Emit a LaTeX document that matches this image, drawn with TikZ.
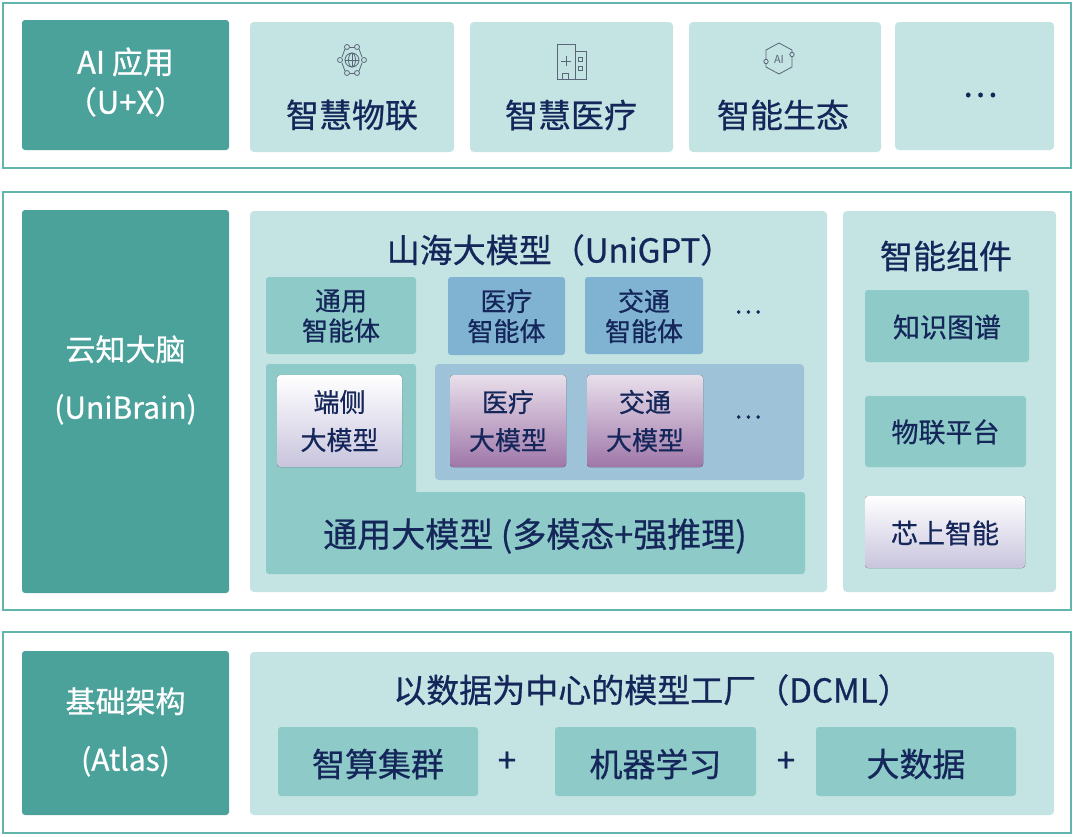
\documentclass[tikz,border=0pt]{standalone}
\usepackage{fontspec}
\setmainfont{Noto Sans CJK SC}
\newfontfamily\med[FakeBold=0.7]{Noto Sans CJK SC}
\usetikzlibrary{shapes.geometric}
\definecolor{dk}{HTML}{4BA29B}
\definecolor{bd}{HTML}{62B5AC}
\definecolor{lp}{HTML}{C3E4E2}
\definecolor{mt}{HTML}{8ECBC8}
\definecolor{bl}{HTML}{80B3D2}
\definecolor{bp}{HTML}{9EC2D7}
\definecolor{nv}{HTML}{15275A}
\definecolor{ic}{HTML}{5A6578}
\definecolor{pu}{HTML}{8E5F9A}
\definecolor{lv}{HTML}{C8C4DD}
\tikzset{
 outer/.style={draw=bd,line width=1.5pt,fill=white},
 dark/.style={fill=dk,rounded corners=3pt},
 panel/.style={fill=lp,rounded corners=4pt},
 mid/.style={fill=mt,rounded corners=3pt},
 blu/.style={fill=bl,rounded corners=3pt},
 bpan/.style={fill=bp,rounded corners=4pt},
 purp/.style={top color=white!80!pu,bottom color=pu!85,rounded corners=3pt},
 lav/.style={top color=white,bottom color=lv,rounded corners=3pt},
 wt/.style={text=white,font=\med\fontsize{31}{40}\selectfont,align=center},
 tx/.style={text=nv,font=\med\fontsize{33}{38}\selectfont,align=center},
 ts/.style={text=nv,font=\med\fontsize{26}{30}\selectfont,align=center},
 icon/.style={draw=ic,line width=0.8pt}
}
\begin{document}
\begin{tikzpicture}[x=1pt,y=-1pt]
\useasboundingbox (0,0) rectangle (1074,836);
% row 1
\draw[outer] (3,3) rectangle (1071,168);
\fill[dark] (22,20) rectangle (229,150);
\node[wt] (ai) at (125.5,82) {AI 应用\\（U+X）};
\fill[panel] (250,22) rectangle (454,152);
\fill[panel] (470,22) rectangle (673,152);
\fill[panel] (689,22) rectangle (881,152);
\fill[panel] (895,22) rectangle (1054,150);
\node[tx] (a1) at (352,115) {智慧物联};
\node[tx] (a2) at (571,115) {智慧医疗};
\node[tx] (a3) at (783,115) {智能生态};
\node[tx] (a4) at (980,95) {…};
% icon 1
\begin{scope}[icon]
\draw (352,60) circle (7);
\draw (345,60) -- (359,60); \draw (352,53) -- (352,67);
\draw (352,60) ellipse (3.5 and 7);
\foreach \p in {(347,47),(357,47),(340,60),(364,60),(347,73),(357,73)} \draw \p circle (2.5);
\draw (349.5,47)--(354.5,47); \draw (349.5,73)--(354.5,73);
\draw (345,49)--(342,57); \draw (359,49)--(362,57);
\draw (342,63)--(345,71); \draw (362,63)--(359,71);
% icon 2
\draw (557,44) rectangle (575,79);
\draw (575,51) rectangle (586,79);
\draw (561,61)--(571,61); \draw (566,56)--(566,66);
\draw (578.5,57) rectangle (582.5,61); \draw (578.5,66) rectangle (582.5,70);
\draw (562,79)--(562,73)--(568,73)--(568,79);
% icon 3
\draw (779,43)--(792,50)--(792,52); \draw (792,57)--(792,67)--(779,74)--(766,67)--(766,64);
\draw (766,59)--(766,50)--(779,43);
\draw (792,54.5) circle (2.2); \draw (766,61.5) circle (2.2);
\end{scope}
\node[text=ic,font=\fontsize{11}{11}\selectfont] (aii) at (779,59) {AI};
% row 2
\draw[outer] (3,192) rectangle (1071,610);
\fill[dark] (22,210) rectangle (229,593);
\node[wt,font=\med\fontsize{30}{58}\selectfont] (ub) at (125.5,380) {云知大脑\\(UniBrain)};
\fill[panel] (250,211) rectangle (827,592);
\fill[panel] (843,211) rectangle (1056,592);
\node[tx] (ug) at (560,250) {山海大模型（UniGPT）};
\fill[mid] (266,277) rectangle (416,354);
\fill[blu] (448,277) rectangle (565,355);
\fill[blu] (585,277) rectangle (703,354);
\node[ts] (g1) at (341,316) {通用\\智能体};
\node[ts] (g2) at (506.5,316) {医疗\\智能体};
\node[ts] (g3) at (644,316) {交通\\智能体};
\node[ts] (g4) at (748,312) {…};
\fill[mid] (266,364) rectangle (416,500);
\fill[mid] (266,492) rectangle (805,574);
\fill[bpan] (435,364) rectangle (804,480);
\fill[lav] (277,375) rectangle (402,467);
\fill[purp] (450,375) rectangle (566,467);
\fill[purp] (587,375) rectangle (703,467);
\node[ts,font=\med\fontsize{26}{38}\selectfont] (m1) at (339.5,421) {端侧\\大模型};
\node[ts,font=\med\fontsize{26}{38}\selectfont] (m2) at (508,421) {医疗\\大模型};
\node[ts,font=\med\fontsize{26}{38}\selectfont] (m3) at (645,421) {交通\\大模型};
\node[ts] (m4) at (748,417) {…};
\node[tx,font=\med\fontsize{34}{38}\selectfont] (gen) at (535,536) {通用大模型 (多模态+强推理)};
\node[tx] (zj) at (946,256) {智能组件};
\fill[mid] (865,290) rectangle (1029,362);
\fill[mid] (865,396) rectangle (1026,467);
\fill[lav] (865,496) rectangle (1025,568);
\node[ts,font=\med\fontsize{27}{30}\selectfont] (r1) at (947,327) {知识图谱};
\node[ts,font=\med\fontsize{27}{30}\selectfont] (r2) at (945.5,432) {物联平台};
\node[ts,font=\med\fontsize{27}{30}\selectfont] (r3) at (945,533) {芯上智能};
% row 3
\draw[outer] (3,632) rectangle (1071,833);
\fill[dark] (22,651) rectangle (229,815);
\node[wt,font=\med\fontsize{30}{58}\selectfont] (at) at (125.5,732) {基础架构\\(Atlas)};
\fill[panel] (250,652) rectangle (1054,815);
\node[tx] (dc) at (652,690) {以数据为中心的模型工厂（DCML）};
\fill[mid] (278,727) rectangle (478,796);
\fill[mid] (555,727) rectangle (756,796);
\fill[mid] (816,727) rectangle (1016,796);
\node[tx] (b1) at (378,764) {智算集群};
\node[tx] (b2) at (655.5,764) {机器学习};
\node[tx] (b3) at (916,764) {大数据};
\node[tx] (p1) at (507,762) {+};
\node[tx] (p2) at (786,762) {+};
\end{tikzpicture}
\end{document}
